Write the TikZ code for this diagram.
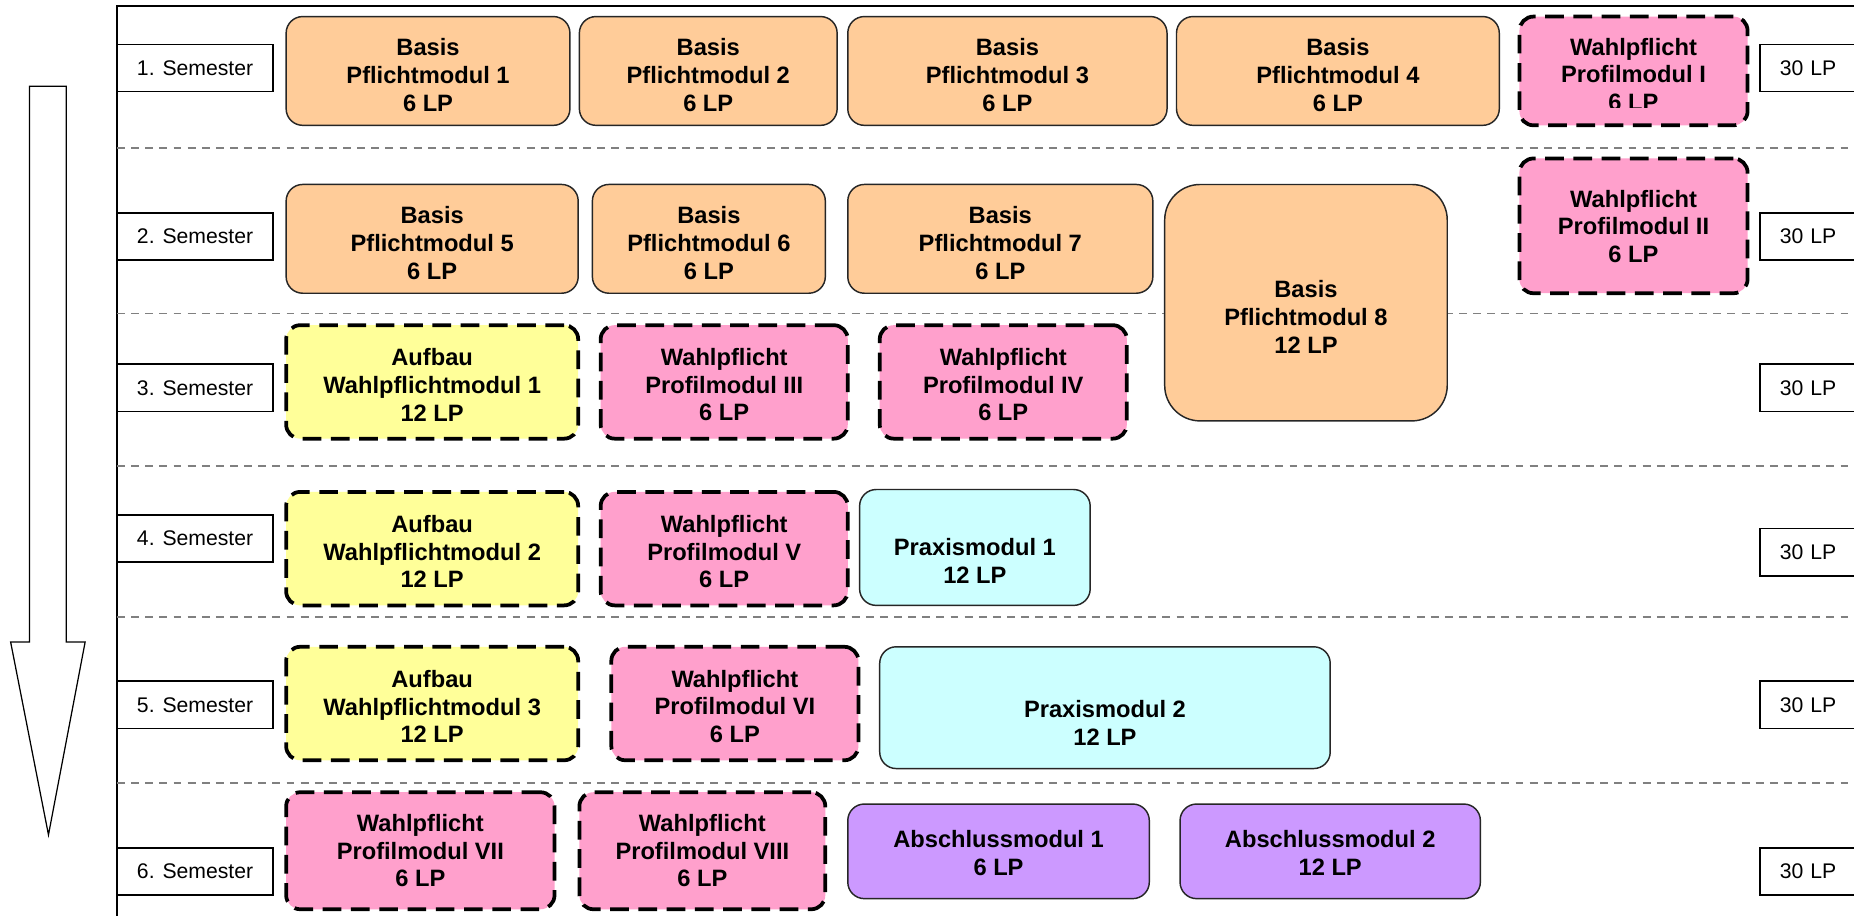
\documentclass[tikz,border=0pt]{standalone}
\usepackage{fontspec}
\setmainfont{Liberation Sans}
\definecolor{peach}{HTML}{FFCC99}
\definecolor{pinkm}{HTML}{FFA0CC}
\definecolor{yellowm}{HTML}{FFFF99}
\definecolor{cyanm}{HTML}{CCFFFF}
\definecolor{purplem}{HTML}{CC99FF}
% \modbox[text shift]{name}{x1}{y1}{x2}{y2}{style}{text}
\newcommand\modbox[8][2.5]{%
  \pgfmathsetmacro\modW{(#5-#3)*0.02}%
  \pgfmathsetmacro\modH{(#6-#4)*0.02}%
  \node[#7, minimum width=\modW cm, minimum height=\modH cm] (#2) at ({(#3+#5)/2},{(#4+#6)/2}) {};
  \node[modtext] (#2-t) at ([yshift={-#1*0.02cm}]#2.center) {#8};}
\tikzset{
  modtext/.style={font=\fontsize{11.4}{13.3}\selectfont\bfseries, align=center, inner sep=0pt},
  solidmod/.style={draw=black!85, line width=0.7pt, rounded corners=0.28cm, inner sep=0pt},
  pfl/.style={solidmod, fill=peach},
  prx/.style={solidmod, fill=cyanm},
  abs/.style={solidmod, fill=purplem},
  dashmod/.style={draw=black, line width=1.8pt, dash pattern=on 9pt off 4.6pt, rounded corners=0.24cm, inner sep=0pt},
  wpf/.style={dashmod, fill=pinkm},
  auf/.style={dashmod, fill=yellowm},
  sembox/.style={draw=black, fill=white, line width=0.8pt, font=\fontsize{10.2}{12}\selectfont, minimum width=2.64cm, minimum height=0.8cm, inner sep=0pt},
  lpbox/.style={draw=black, fill=white, line width=0.8pt, font=\fontsize{10.2}{12}\selectfont, anchor=west, minimum height=0.8cm, text width=1.6cm, align=left, inner xsep=0.33cm, inner ysep=0pt},
  sepline/.style={draw=black!50, line width=0.75pt, dash pattern=on 3.8pt off 3pt},
  frameline/.style={draw=black, line width=1pt},
}
\begin{document}
\begin{tikzpicture}[x=0.02cm, y=-0.02cm]
\clip (0,0) rectangle (1568,774);
\fill[white] (0,0) rectangle (1568,774);
% arrow
\draw[fill=white, line width=0.6pt, line join=miter] (25,73) -- (56,73) -- (56,543) -- (72,543) -- (41,706) -- (9,543) -- (25,543) -- cycle;
% frame
\draw[frameline] (99,800) -- (99,5) -- (1600,5);
% separators
\foreach \yy in {125,265,394,522,662} \draw[sepline] (99,\yy) -- (1600,\yy);
% semester labels
\node[sembox] (s1) at (165,57.5) {1. Semester};
\node[sembox] (s2) at (165,200) {2. Semester};
\node[sembox] (s3) at (165,328) {3. Semester};
\node[sembox] (s4) at (165,455.5) {4. Semester};
\node[sembox] (s5) at (165,596) {5. Semester};
\node[sembox] (s6) at (165,737) {6. Semester};
% LP labels
\node[lpbox] (l1) at (1488,57.5) {30 LP};
\node[lpbox] (l2) at (1488,200) {30 LP};
\node[lpbox] (l3) at (1488,328) {30 LP};
\node[lpbox] (l4) at (1488,467) {30 LP};
\node[lpbox] (l5) at (1488,596) {30 LP};
\node[lpbox] (l6) at (1488,737) {30 LP};
% row 1
\modbox[3.5]{bp1}{242}{14}{482}{106}{pfl}{Basis\\Pflichtmodul 1\\6 LP}
\modbox[3.5]{bp2}{490}{14}{708}{106}{pfl}{Basis\\Pflichtmodul 2\\6 LP}
\modbox[3.5]{bp3}{717}{14}{987}{106}{pfl}{Basis\\Pflichtmodul 3\\6 LP}
\modbox[3.5]{bp4}{995}{14}{1268}{106}{pfl}{Basis\\Pflichtmodul 4\\6 LP}
\node[wpf, minimum width=3.86cm, minimum height=1.84cm] (wp1) at (1381.5,60) {};
\begin{scope}
\clip (1285,14) rectangle (1478,91);
\node[modtext] (wp1-t) at ([yshift={-3*0.02cm}]wp1.center) {Wahlpflicht\\Profilmodul I\\6 LP};
\end{scope}
% row 2
\modbox[3.5]{bp5}{242}{156}{489}{248}{pfl}{Basis\\Pflichtmodul 5\\6 LP}
\modbox[3.5]{bp6}{501}{156}{698}{248}{pfl}{Basis\\Pflichtmodul 6\\6 LP}
\modbox[3.5]{bp7}{717}{156}{975}{248}{pfl}{Basis\\Pflichtmodul 7\\6 LP}
\node[pfl, rounded corners=0.6cm, minimum width=4.78cm, minimum height=4cm] (bp8) at (1104.5,256) {};
\node[modtext] (bp8-t) at ([yshift={-12*0.02cm}]bp8.center) {Basis\\Pflichtmodul 8\\12 LP};
\modbox[0.5]{wp2}{1285}{134}{1478}{248}{wpf}{Wahlpflicht\\Profilmodul II\\6 LP}
% row 3
\modbox{aw1}{242}{275}{489}{371}{auf}{Aufbau\\Wahlpflichtmodul 1\\12 LP}
\modbox{wp3}{508}{275}{717}{371}{wpf}{Wahlpflicht\\Profilmodul III\\6 LP}
\modbox{wp4}{744}{275}{953}{371}{wpf}{Wahlpflicht\\Profilmodul IV\\6 LP}
% row 4
\modbox{aw2}{242}{416}{489}{512}{auf}{Aufbau\\Wahlpflichtmodul 2\\12 LP}
\modbox{wp5}{508}{416}{717}{512}{wpf}{Wahlpflicht\\Profilmodul V\\6 LP}
\modbox[11.5]{pr1}{727}{414}{922}{512}{prx}{Praxismodul 1\\12 LP}
% row 5
\modbox{aw3}{242}{547}{489}{643}{auf}{Aufbau\\Wahlpflichtmodul 3\\12 LP}
\modbox{wp6}{517}{547}{726}{643}{wpf}{Wahlpflicht\\Profilmodul VI\\6 LP}
\modbox[13]{pr2}{744}{547}{1125}{650}{prx}{Praxismodul 2\\12 LP}
% row 6
\modbox[0]{wp7}{242}{670}{469}{769}{wpf}{Wahlpflicht\\Profilmodul VII\\6 LP}
\modbox[0]{wp8}{490}{670}{698}{769}{wpf}{Wahlpflicht\\Profilmodul VIII\\6 LP}
\modbox[1.5]{ab1}{717}{680}{972}{760}{abs}{Abschlussmodul 1\\6 LP}
\modbox[1.5]{ab2}{998}{680}{1252}{760}{abs}{Abschlussmodul 2\\12 LP}
\end{tikzpicture}
\end{document}
